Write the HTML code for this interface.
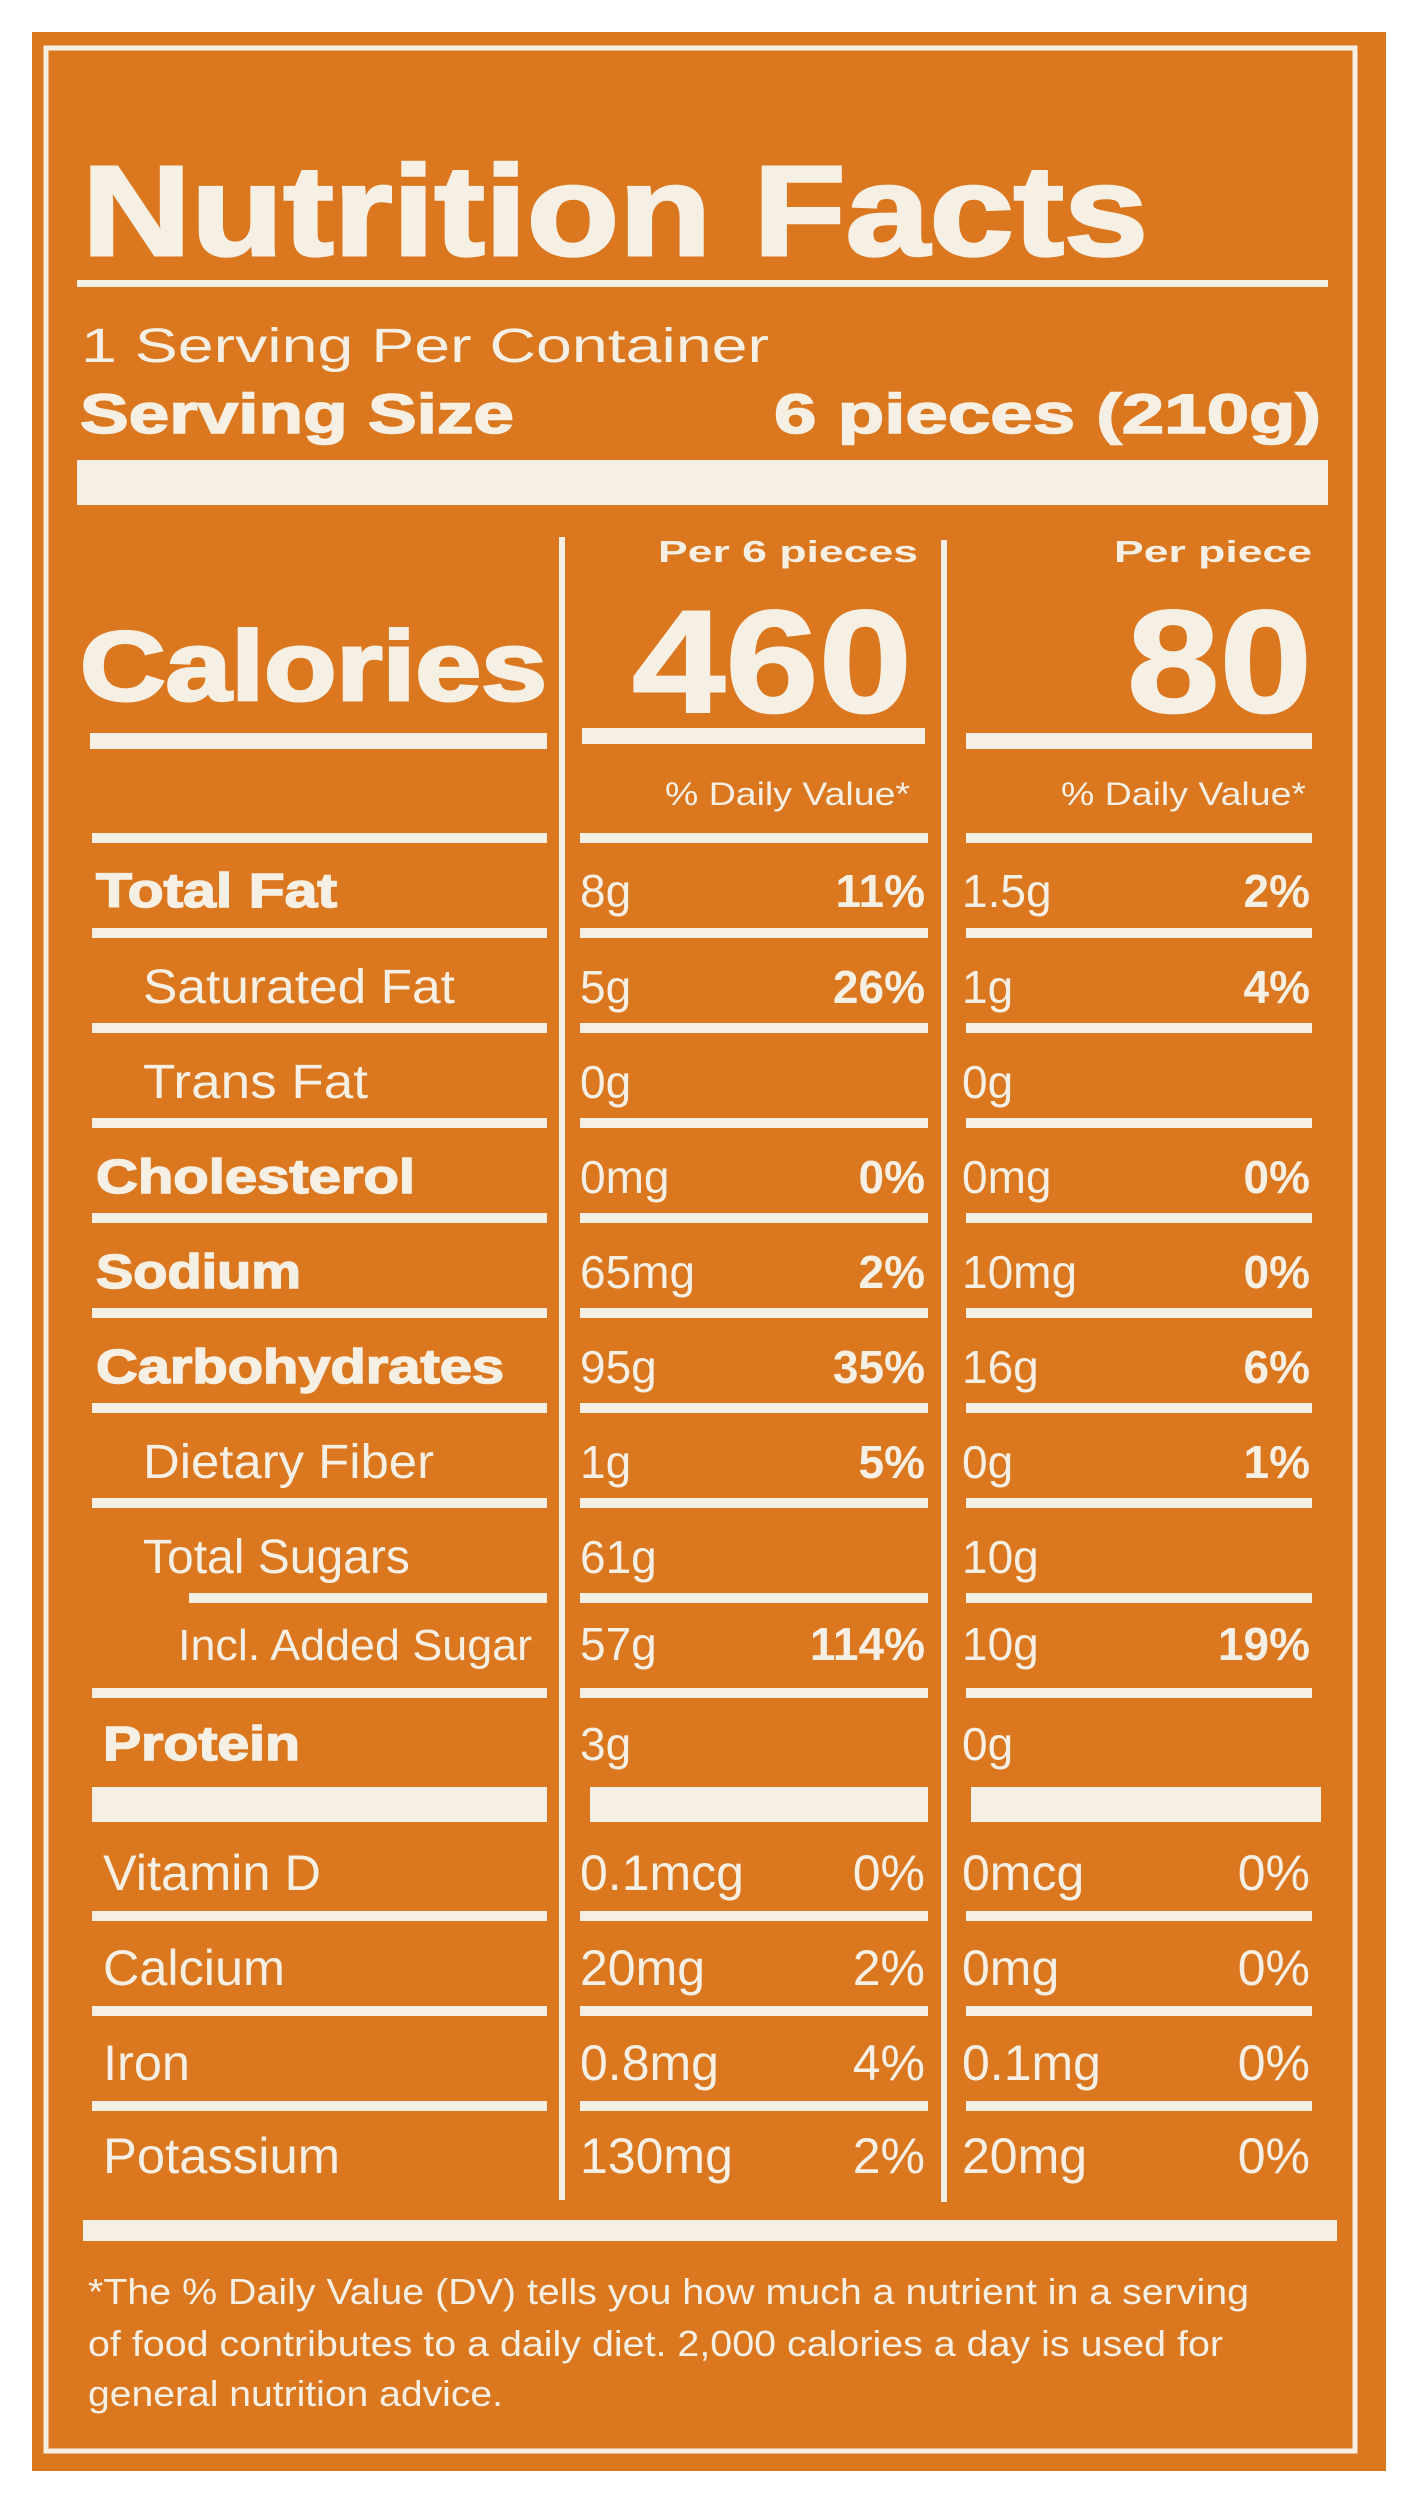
<!DOCTYPE html>
<html><head><meta charset="utf-8"><title>Nutrition Facts</title>
<style>
html,body{margin:0;padding:0;background:#fff;}
svg{display:block;}
text{font-family:"Liberation Sans",Arial,sans-serif;fill:#f6efe4;}
.b{font-weight:bold;}
</style></head>
<body>
<svg id="label" width="1412" height="2499" viewBox="0 0 1412 2499" xmlns="http://www.w3.org/2000/svg">
  <rect x="32" y="32" width="1354" height="2439" fill="#da771f"/>
  <rect x="46" y="48" width="1309" height="2403" fill="none" stroke="#f6efe4" stroke-width="5"/>
  <text class="b" x="82" y="255" font-size="128" textLength="1066" lengthAdjust="spacingAndGlyphs" stroke="#f6efe4" stroke-width="3">Nutrition Facts</text>
  <rect x="77" y="280" width="1251" height="7" fill="#f6efe4"/>
  <text x="81" y="362" font-size="48" textLength="688" lengthAdjust="spacingAndGlyphs">1 Serving Per Container</text>
  <text class="b" x="80" y="433" font-size="56" textLength="434" lengthAdjust="spacingAndGlyphs" stroke="#f6efe4" stroke-width="1.5">Serving Size</text>
  <text class="b" x="774" y="433" font-size="56" textLength="547" lengthAdjust="spacingAndGlyphs" stroke="#f6efe4" stroke-width="1.5">6 pieces (210g)</text>
  <rect x="77" y="460" width="1251" height="45" fill="#f6efe4"/>
  <rect x="559" y="537" width="6" height="1663" fill="#f6efe4"/>
  <rect x="941" y="540" width="6" height="1662" fill="#f6efe4"/>
  <text class="b" x="918" y="562" font-size="31" text-anchor="end" textLength="260" lengthAdjust="spacingAndGlyphs">Per 6 pieces</text>
  <text class="b" x="1312" y="562" font-size="31" text-anchor="end" textLength="198" lengthAdjust="spacingAndGlyphs">Per piece</text>
  <text class="b" x="80" y="700" font-size="98" textLength="467" lengthAdjust="spacingAndGlyphs" stroke="#f6efe4" stroke-width="3">Calories</text>
  <text class="b" x="632" y="712" font-size="146" textLength="280" lengthAdjust="spacingAndGlyphs" stroke="#f6efe4" stroke-width="2">460</text>
  <text class="b" x="1127" y="712" font-size="146" textLength="185" lengthAdjust="spacingAndGlyphs" stroke="#f6efe4" stroke-width="2">80</text>
  <rect x="90" y="733" width="457" height="16" fill="#f6efe4"/>
  <rect x="582" y="728" width="343" height="16" fill="#f6efe4"/>
  <rect x="966" y="733" width="346" height="16" fill="#f6efe4"/>
  <text x="910" y="805" font-size="32" text-anchor="end" textLength="245" lengthAdjust="spacingAndGlyphs">% Daily Value*</text>
  <text x="1306" y="805" font-size="32" text-anchor="end" textLength="245" lengthAdjust="spacingAndGlyphs">% Daily Value*</text>
  <g id="rows"></g>
  <rect x="92" y="1787" width="455" height="35" fill="#f6efe4"/>
  <rect x="590" y="1787" width="338" height="35" fill="#f6efe4"/>
  <rect x="971" y="1787" width="350" height="35" fill="#f6efe4"/>
  <rect x="83" y="2220" width="1254" height="21" fill="#f6efe4"/>
  <text x="88" y="2304" font-size="36" textLength="1161" lengthAdjust="spacingAndGlyphs">*The % Daily Value (DV) tells you how much a nutrient in a serving</text>
  <text x="88" y="2356" font-size="36" textLength="1135" lengthAdjust="spacingAndGlyphs">of food contributes to a daily diet. 2,000 calories a day is used for</text>
  <text x="88" y="2406" font-size="36" textLength="415" lengthAdjust="spacingAndGlyphs">general nutrition advice.</text>
</svg>
<script>
const nutrients = ["Total Fat","Saturated Fat","Trans Fat","Cholesterol","Sodium","Carbohydrates","Dietary Fiber","Total Sugars","Incl. Added Sugar","Protein","Vitamin D","Calcium","Iron","Potassium"];
const amountPer6 = ["8g","5g","0g","0mg","65mg","95g","1g","61g","57g","3g","0.1mcg","20mg","0.8mg","130mg"];
const dvPer6 = ["11%","26%","","0%","2%","35%","5%","","114%","","0%","2%","4%","2%"];
const amountPerPiece = ["1.5g","1g","0g","0mg","10mg","16g","0g","10g","10g","0g","0mcg","0mg","0.1mg","20mg"];
const dvPerPiece = ["2%","4%","","0%","0%","6%","1%","","19%","","0%","0%","0%","0%"];
const boldLabel = [1,0,0,1,1,1,0,0,0,1,0,0,0,0];
const indent = [0,1,1,0,0,0,1,1,2,0,0,0,0,0];
const baselines = [907,1003,1098,1193,1288,1383,1478,1573,1660,1760,1890,1985,2080,2173];
const NS = "http://www.w3.org/2000/svg";
const g = document.getElementById("rows");
function mk(tag, attrs){const e=document.createElementNS(NS,tag);for(const k in attrs)e.setAttribute(k,attrs[k]);g.appendChild(e);return e;}
const labelX=[96,143,178];
const labelW = [241,312,225,319,205,408,291,0,354,197,218,182,87,237];
const ruleY = [838,933,1028,1123,1218,1313,1408,1503,1598,1693,null,1916,2011,2106];
for(let i=0;i<nutrients.length;i++){
  if(ruleY[i]!==null){
    const r1=mk("rect",{x:(i===8?189:92),y:ruleY[i]-5,width:(i===8?358:455),height:10,fill:"#f6efe4"});
    
    
    const r2=mk("rect",{x:580,y:ruleY[i]-5,width:348,height:10,fill:"#f6efe4"});
    
    
    const r3=mk("rect",{x:966,y:ruleY[i]-5,width:346,height:10,fill:"#f6efe4"});
    
    
  }
  const y=baselines[i];
  const vit = i>=10;
  const fs = boldLabel[i]?48:(i===8?44:(vit?50:48));
  const lx = vit?103:(i===9?103:labelX[indent[i]]);
  const a={x:lx,y:y,"font-size":fs};
  if(boldLabel[i]){a["class"]="b";a.stroke="#f6efe4";a["stroke-width"]="1.5";}
  if(labelW[i])a.textLength=labelW[i],a.lengthAdjust="spacingAndGlyphs";
  const t=mk("text",a); t.textContent=nutrients[i];
  
  
  const v1=mk("text",{x:580,y:y,"font-size":vit?50:46}); v1.textContent=amountPer6[i];
  
  
  const v2=mk("text",{x:962,y:y,"font-size":vit?50:46}); v2.textContent=amountPerPiece[i];
  
  
  if(dvPer6[i]){
    const p=mk("text",{x:925,y:y,"font-size":vit?50:46,"text-anchor":"end"});
    if(!vit){p.setAttribute("class","b");}
    p.textContent=dvPer6[i];
    
    
  }
  if(dvPerPiece[i]){
    const p=mk("text",{x:1310,y:y,"font-size":vit?50:46,"text-anchor":"end"});
    if(!vit){p.setAttribute("class","b");}
    p.textContent=dvPerPiece[i];
    
    
  }
}
</script>
</body></html>
